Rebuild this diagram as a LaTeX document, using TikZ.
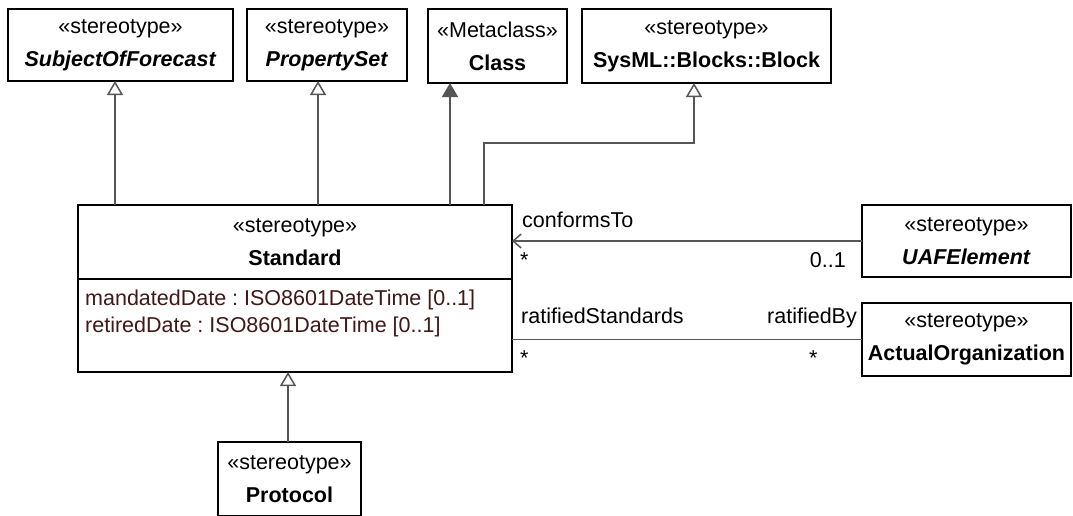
\documentclass[tikz,border=0pt]{standalone}
\usepackage{fontspec}
\setmainfont{Liberation Sans}
\frenchspacing
\usepackage{tikz}
\usetikzlibrary{arrows.meta,positioning,calc}
\definecolor{linegray}{RGB}{85, 85, 85}
\definecolor{attrbrown}{RGB}{64, 24, 24}

\begin{document}
\begin{tikzpicture}[x=1pt,y=-1pt,
    umlbox/.style={draw=black,line width=1.5pt,fill=white,anchor=north west,align=center,inner sep=0pt,outer sep=0pt,font=\fontsize{21.5}{33}\selectfont},
    attr/.style={anchor=base west,inner sep=0pt,text=attrbrown,font=\fontsize{21.5}{27}\selectfont},
    lbl/.style={inner sep=0pt,font=\fontsize{21.5}{27}\selectfont},
    gen/.style={draw=linegray,line width=1.5pt,-{Triangle[open,length=14pt,width=16pt]}},
    genfill/.style={draw=linegray,line width=1.5pt,-{Triangle[length=14pt,width=16pt]}},
    nav/.style={draw=linegray,line width=1.5pt,-{Straight Barb[length=8pt,width=14pt]}},
    assoc/.style={draw=linegray,line width=1.5pt}]
    \useasboundingbox (0,0) rectangle (1073,515);
    \node[umlbox,minimum width=225pt,minimum height=72pt] (sof) at (8,9) {«stereotype»\\\textbf{\textit{SubjectOfForecast}}};
    \node[umlbox,minimum width=160pt,minimum height=72pt] (pset) at (247,9) {«stereotype»\\\textbf{\textit{PropertySet}}};
    \node[umlbox,minimum width=139pt,minimum height=74pt] (cls) at (428,9) {«Metaclass»\\\textbf{Class}};
    \node[umlbox,minimum width=249pt,minimum height=74pt] (blk) at (582,9) {«stereotype»\\\textbf{SysML::Blocks::Block}};
    \node[umlbox,minimum width=434pt,minimum height=74pt] (std) at (78,205) {«stereotype»\\\textbf{Standard}};
    \node[umlbox,minimum width=434pt,minimum height=93pt] (stdattr) at (std.south west) {};
    \node[attr] (mdate) at (85,305) {mandatedDate : ISO8601DateTime [0..1]};
    \node[attr] (rdate) at (85,332) {retiredDate : ISO8601DateTime [0..1]};
    \node[umlbox,minimum width=209pt,minimum height=72pt] (uaf) at (862,205) {«stereotype»\\\textbf{\textit{UAFElement}}};
    \node[umlbox,minimum width=209pt,minimum height=73pt] (org) at (862,303) {«stereotype»\\\textbf{ActualOrganization}};
    \node[umlbox,minimum width=143pt,minimum height=74pt] (proto) at (218,442) {«stereotype»\\\textbf{Protocol}};
    \draw[gen] (std.north -| 115,0) -- (sof.south -| 115,0);
    \draw[gen] (std.north -| 318,0) -- (pset.south -| 318,0);
    \draw[genfill] (std.north -| 450,0) -- (cls.south -| 450,0);
    \draw[gen] (std.north -| 484,0) -- ++(0,-62) -| (blk.south -| 694,0);
    \draw[gen] (proto.north -| 288,0) -- (stdattr.south -| 288,0);
    \draw[nav] (uaf.west) -- (uaf.west -| stdattr.east);
    \draw[assoc] (org.west) -- (org.west -| stdattr.east);
    \node[lbl,anchor=base west] (ctname) at (522,227) {conformsTo};
    \node[lbl,anchor=base west] (ctstd) at (520,267) {*};
    \node[lbl,anchor=base east] (ctuaf) at (846,267) {0..1};
    \node[lbl,anchor=base west] (rsname) at (521,323) {ratifiedStandards};
    \node[lbl,anchor=base east] (rbname) at (857,323) {ratifiedBy};
    \node[lbl,anchor=base west] (rsstd) at (520,365) {*};
    \node[lbl,anchor=base west] (rborg) at (809,365) {*};
\end{tikzpicture}
\end{document}
